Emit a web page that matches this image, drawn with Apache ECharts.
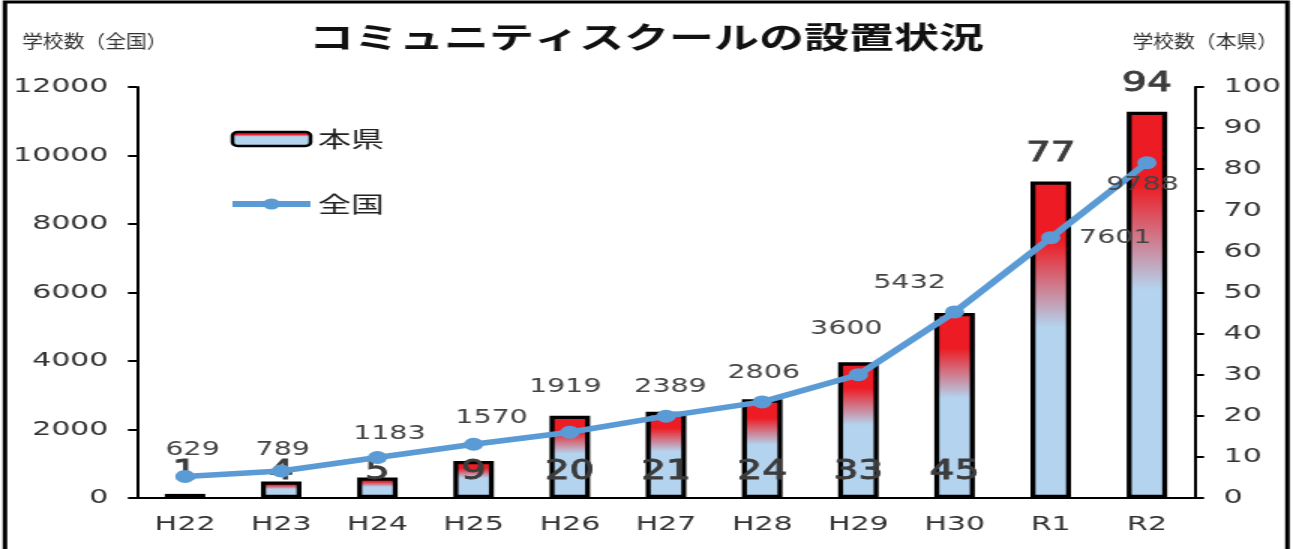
<!DOCTYPE html>
<html>
<head>
<meta charset="utf-8">
<script src="https://cdn.jsdelivr.net/npm/echarts@6/dist/echarts.min.js"></script>
<style>
  html, body { margin: 0; padding: 0; background: #fff; overflow: hidden; }
  /* laid out at 862 px wide, then widened 1.5x to fill the 1293 px page */
  #chart { width: 862px; height: 549px; transform: scaleX(1.5); transform-origin: 0 0; }
</style>
</head>
<body>
<div id="chart"></div>
<script>
// Fiscal years
const years = ['H22', 'H23', 'H24', 'H25', 'H26', 'H27', 'H28', 'H29', 'H30', 'R1', 'R2'];
// Community schools in the prefecture (right axis)
const prefSchools = [1, 4, 5, 9, 20, 21, 24, 33, 45, 77, 94];
// Community schools nationwide (left axis)
const nationSchools = [629, 789, 1183, 1570, 1919, 2389, 2806, 3600, 5432, 7601, 9788];
// Axis ranges
const nationAxis = { min: 0, max: 12000, step: 2000 };
const prefAxis = { min: 0, max: 100, step: 10 };

// Where each nationwide value label sits relative to its point (dx, dy)
const nationLabelNudge = [[5, -26], [1, -21], [8, -23], [12, -26], [-3, -45], [3, -29],
                          [1, -29], [-8, -46], [-30, -29], [43, 0], [-3, 22]];

const RED = '#ED1C24';
const SKY = '#B4D3EE';
const LINE_BLUE = '#5B9BD5';
const NUM_FONT = 'DejaVu Sans';
const JP_FONT = 'Noto Sans CJK JP';

const barFill = new echarts.graphic.LinearGradient(0, 0, 0, 1, [
  { offset: 0, color: RED },
  { offset: 0.19, color: RED },
  { offset: 0.46, color: SKY },
  { offset: 1, color: SKY }
]);
const legendFill = new echarts.graphic.LinearGradient(0, 0, 0, 1, [
  { offset: 0, color: RED },
  { offset: 0.22, color: RED },
  { offset: 0.36, color: SKY },
  { offset: 1, color: SKY }
]);

const barData = prefSchools.map(v => ({
  value: v,
  label: v >= 50
    ? { position: 'top', distance: 14 }
    : { position: 'insideBottom', distance: 13 }
}));

const lineData = nationSchools.map((v, i) => ({
  value: v,
  label: { offset: nationLabelNudge[i] }
}));

const axisLineStyle = { color: '#000', width: 2 };
const axisNumLabel = { fontFamily: NUM_FONT, fontSize: 20, color: '#333', margin: 19, formatter: v => String(v) };

const chart = echarts.init(document.getElementById('chart'));
chart.setOption({
  animation: false,
  backgroundColor: '#fff',
  title: {
    text: 'コミュニティスクールの設置状況',
    left: 'center',
    top: 22,
    padding: 0,
    textStyle: { fontFamily: JP_FONT, fontWeight: 'bold', fontSize: 30, color: '#111' }
  },
  graphic: [
    {
      type: 'rect',
      shape: { x: 3.3, y: 2, width: 855, height: 600 },
      style: { fill: 'none', stroke: '#000', lineWidth: 3 },
      silent: true
    },
    {
      type: 'text', x: 14.7, y: 41, scaleX: 0.77,
      style: { text: '学校数（全国）', font: '18px "Noto Sans CJK JP"', fill: '#333', verticalAlign: 'middle', align: 'left' }
    },
    {
      type: 'text', x: 852, y: 41, scaleX: 0.77,
      style: { text: '学校数（本県）', font: '18px "Noto Sans CJK JP"', fill: '#333', verticalAlign: 'middle', align: 'right' }
    }
  ],
  legend: {
    orient: 'vertical',
    left: 147,
    top: 123,
    itemWidth: 52,
    itemHeight: 14,
    itemGap: 43,
    textStyle: { fontFamily: JP_FONT, fontSize: 22, color: '#222' },
    data: [
      { name: '本県', itemStyle: { color: legendFill, borderColor: '#000', borderWidth: 2.5 } },
      { name: '全国', lineStyle: { width: 6, color: LINE_BLUE } }
    ]
  },
  grid: {
    left: 91.3, right: 65.3, top: 87, bottom: 51,
    containLabel: false,
    outerBoundsMode: 'none'
  },
  xAxis: {
    type: 'category',
    data: years,
    axisLine: { show: true, lineStyle: axisLineStyle },
    axisTick: { show: false },
    axisLabel: { fontFamily: NUM_FONT, fontSize: 20, color: '#333', margin: 17 }
  },
  yAxis: [
    {
      type: 'value',
      position: 'left',
      min: nationAxis.min, max: nationAxis.max, interval: nationAxis.step,
      axisLine: { show: true, lineStyle: axisLineStyle },
      axisTick: { show: true, length: 6, lineStyle: axisLineStyle },
      axisLabel: axisNumLabel,
      splitLine: { show: false }
    },
    {
      type: 'value',
      position: 'right',
      min: prefAxis.min, max: prefAxis.max, interval: prefAxis.step,
      axisLine: { show: true, lineStyle: axisLineStyle },
      axisTick: { show: true, length: 6, lineStyle: axisLineStyle },
      axisLabel: axisNumLabel,
      splitLine: { show: false }
    }
  ],
  series: [
    {
      name: '本県',
      type: 'bar',
      yAxisIndex: 1,
      data: barData,
      barWidth: 27,
      itemStyle: { color: barFill, borderColor: '#000', borderWidth: 3.3 },
      label: {
        show: true,
        fontFamily: NUM_FONT,
        fontSize: 26,
        color: '#3c3c3c',
        textBorderColor: '#3c3c3c',
        textBorderWidth: 0.9
      },
      z: 2
    },
    {
      name: '全国',
      type: 'line',
      yAxisIndex: 0,
      data: lineData,
      symbol: 'circle',
      symbolSize: 13,
      lineStyle: { color: LINE_BLUE, width: 5.5 },
      itemStyle: { color: LINE_BLUE },
      label: {
        show: true,
        position: 'inside',
        fontFamily: NUM_FONT,
        fontSize: 19,
        color: '#444'
      },
      z: 3
    }
  ]
});
</script>
</body>
</html>
